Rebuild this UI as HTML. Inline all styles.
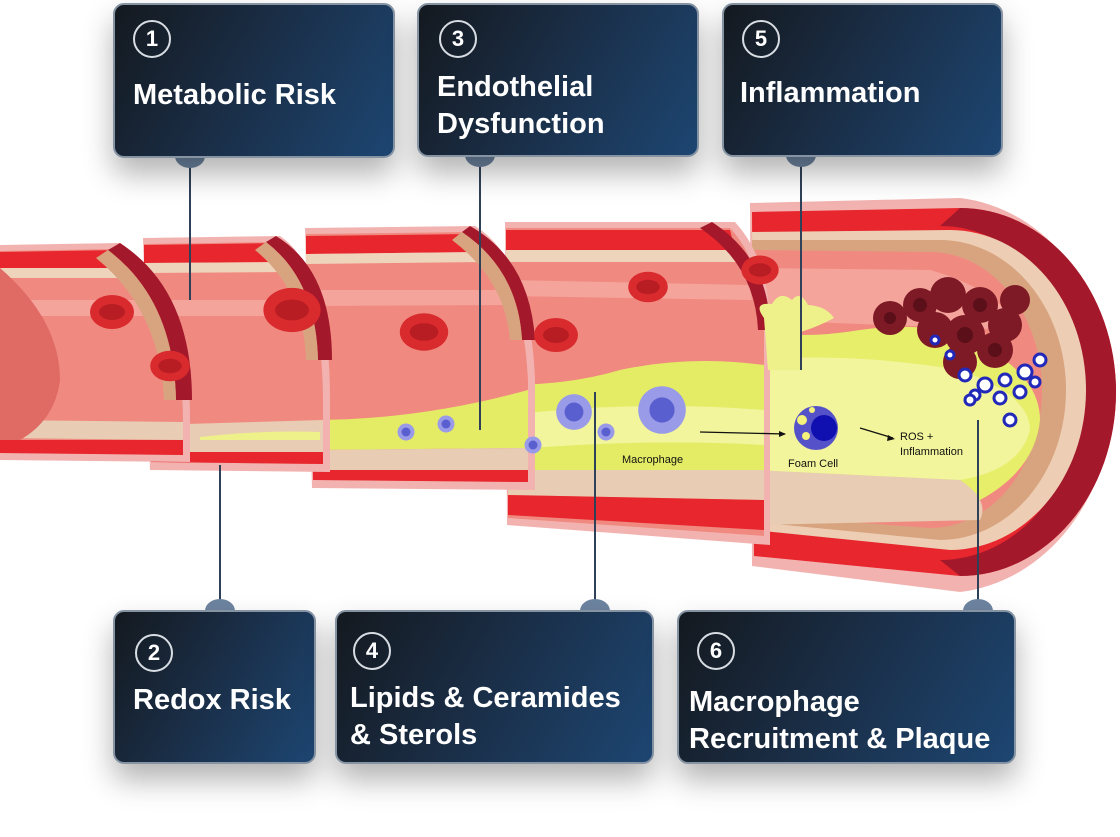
<!DOCTYPE html>
<html><head><meta charset="utf-8"><style>
html,body{margin:0;padding:0;background:#fff;}
body{width:1120px;height:837px;position:relative;overflow:hidden;font-family:"Liberation Sans",sans-serif;}
.box{position:absolute;box-sizing:border-box;border:2px solid #8593a3;border-radius:11px;background:linear-gradient(120deg,#14191f 0%,#1a2d45 45%,#1d4672 100%);box-shadow:0 16px 30px rgba(0,0,0,.3);color:#fff;}
.num{position:absolute;width:38px;height:38px;border:2px solid #d8dde3;border-radius:50%;box-sizing:border-box;text-align:center;line-height:34px;font-size:22px;font-weight:bold;}
.t{position:absolute;font-size:29px;font-weight:bold;line-height:37px;}
svg{position:absolute;left:0;top:0;}
</style></head><body>
<svg width="1120" height="837" viewBox="0 0 1120 837">
<defs>
<g id="rbc"><ellipse rx="22" ry="17" fill="#d92a2e"/><ellipse rx="13" ry="8" fill="#b81d24"/></g>
<g id="mac"><circle r="17" fill="#9a9be8"/><circle r="9" fill="#5a5fd0"/></g>
</defs>
<path d="M750,203 L960,198 A170,198 0 0 1 960,592 L752,566 Z" fill="#f2b3b0"/>
<path d="M752,212 L960,208 A156,184 0 0 1 960,576 L754,556 Z" fill="#e8262d"/>
<path d="M960,208 A156,184 0 0 1 960,576 L940,560 A140,166 0 0 0 940,226 Z" fill="#a3182b"/>
<path d="M752,232 L950,230 A136,160 0 0 1 950,550 L754,530 Z" fill="#edcdb3"/>
<path d="M752,240 L940,240 A126,150 0 0 1 940,540 L754,522 Z" fill="#d8a47f"/>
<path d="M752,250 L930,252 A112,138 0 0 1 930,528 L754,515 Z" fill="#f08a80"/>
<path d="M752,268 L930,270 Q1000,290 1020,330 L754,320 Z" fill="#f4a49b"/>
<path d="M754,330 Q800,340 860,330 Q940,318 990,350 Q1040,380 1040,420 Q1035,470 980,500 L754,495 Z" fill="#e6ee6a"/>
<path d="M754,360 Q850,352 960,370 Q1030,395 1030,430 Q1020,470 960,480 L754,470 Z" fill="#f2f59c"/>
<path d="M754,470 L960,480 Q990,500 980,520 L754,525 Z" fill="#e8ccb3"/>
<path d="M505,222 L735,222 Q770,260 770,330 L770,545 L507,525 Z" fill="#f2b3b0"/>
<path d="M506,228 L730,228 Q762,262 764,330 L764,536 L508,518 Z" fill="#f08a80"/>
<path d="M506,230 L730,230 L735,250 L506,250 Z" fill="#e8262d"/>
<path d="M506,250 L736,250 L738,262 L506,262 Z" fill="#efd4bc"/>
<path d="M506,280 L750,285 L752,300 L506,296 Z" fill="#f4a49b"/>
<path d="M506,385 Q570,385 620,370 Q690,355 764,365 L764,470 L508,470 Z" fill="#e4ec66"/>
<path d="M508,415 Q640,400 764,410 L764,445 Q640,438 508,450 Z" fill="#f2f59c"/>
<path d="M508,470 L764,470 L764,500 L508,495 Z" fill="#e8ccb3"/>
<path d="M508,495 L764,500 L764,530 L508,515 Z" fill="#e8262d"/>
<path d="M712,222 Q770,260 770,330 L758,330 Q755,265 700,228 Z" fill="#a3182b"/>
<path d="M305,228 L475,226 Q530,260 535,380 L535,490 L312,488 Z" fill="#f2b3b0"/>
<path d="M306,234 L470,232 Q522,266 528,380 L528,482 L313,480 Z" fill="#f08a80"/>
<path d="M306,236 L472,234 L478,252 L306,254 Z" fill="#e8262d"/>
<path d="M306,254 L480,252 L484,262 L306,264 Z" fill="#efd4bc"/>
<path d="M306,290 L505,290 L510,305 L306,306 Z" fill="#f4a49b"/>
<path d="M313,420 Q420,420 528,390 L528,448 L313,450 Z" fill="#e4ec66"/>
<path d="M313,450 L528,448 L528,470 L313,470 Z" fill="#e8ccb3"/>
<path d="M313,470 L528,470 L528,482 L313,480 Z" fill="#e8262d"/>
<path d="M470,226 Q530,260 535,340 L522,340 Q518,270 462,232 Z" fill="#a3182b"/>
<path d="M462,232 Q518,270 522,340 L510,340 Q505,280 452,240 Z" fill="#d8a47f"/>
<path d="M143,238 L280,236 Q330,270 330,400 L330,472 L150,470 Z" fill="#f2b3b0"/>
<path d="M144,244 L275,242 Q322,275 323,400 L323,464 L151,462 Z" fill="#f08a80"/>
<path d="M144,245 L278,243 L284,262 L144,263 Z" fill="#e8262d"/>
<path d="M144,263 L286,262 L290,272 L144,273 Z" fill="#efd4bc"/>
<path d="M144,300 L305,300 L310,316 L144,316 Z" fill="#f4a49b"/>
<path d="M151,425 L323,420 L323,452 L151,452 Z" fill="#e8ccb3"/>
<path d="M200,437 Q260,430 320,432 L320,440 Q260,440 200,440 Z" fill="#eef08a"/>
<path d="M151,452 L323,452 L323,464 L151,462 Z" fill="#e8262d"/>
<path d="M276,236 Q332,270 332,360 L318,360 Q316,280 266,242 Z" fill="#a3182b"/>
<path d="M266,242 Q316,280 318,360 L306,360 Q304,290 255,250 Z" fill="#d8a47f"/>
<path d="M0,245 L120,243 Q190,290 190,420 L190,462 L0,460 Z" fill="#f2b3b0"/>
<path d="M0,251 L116,249 Q182,292 183,420 L183,455 L0,453 Z" fill="#f08a80"/>
<path d="M0,252 L120,250 L126,268 L0,268 Z" fill="#e8262d"/>
<path d="M0,268 L128,268 L132,278 L0,278 Z" fill="#efd4bc"/>
<path d="M0,300 L150,300 L158,316 L0,316 Z" fill="#f4a49b"/>
<path d="M0,420 L183,422 L183,440 L0,438 Z" fill="#e8ccb3"/>
<path d="M0,440 L183,440 L183,455 L0,453 Z" fill="#e8262d"/>
<path d="M120,243 Q192,290 192,400 L176,400 Q174,300 108,250 Z" fill="#a3182b"/>
<path d="M108,250 Q174,300 176,400 L164,400 Q160,310 96,258 Z" fill="#d8a47f"/>
<path d="M0,268 Q60,320 60,380 Q55,420 20,440 L0,440 Z" fill="#e06a64"/>
<use href="#rbc" transform="translate(112,312)"/>
<use href="#rbc" transform="translate(170,366) scale(.9)"/>
<use href="#rbc" transform="translate(292,310) scale(1.3)"/>
<use href="#rbc" transform="translate(424,332) scale(1.1)"/>
<use href="#rbc" transform="translate(556,335)"/>
<use href="#rbc" transform="translate(648,287) scale(.9)"/>
<use href="#rbc" transform="translate(760,270) scale(.85)"/>
<g fill="#7e1a26">
<circle cx="890" cy="318" r="17"/><circle cx="920" cy="305" r="17"/><circle cx="948" cy="295" r="18"/><circle cx="980" cy="305" r="18"/><circle cx="1005" cy="325" r="17"/><circle cx="935" cy="330" r="18"/><circle cx="965" cy="335" r="20"/><circle cx="995" cy="350" r="18"/><circle cx="960" cy="362" r="17"/><circle cx="1015" cy="300" r="15"/>
</g>
<g fill="#5a0f19"><circle cx="920" cy="305" r="7"/><circle cx="980" cy="305" r="7"/><circle cx="965" cy="335" r="8"/><circle cx="995" cy="350" r="7"/><circle cx="890" cy="318" r="6"/></g>
<g fill="#fff" stroke="#2228b8" stroke-width="3">
<circle cx="965" cy="375" r="6"/><circle cx="985" cy="385" r="7"/><circle cx="1005" cy="380" r="6"/><circle cx="1025" cy="372" r="7"/><circle cx="1040" cy="360" r="6"/><circle cx="975" cy="395" r="5"/><circle cx="1000" cy="398" r="6"/><circle cx="1020" cy="392" r="6"/><circle cx="1035" cy="382" r="5"/><circle cx="970" cy="400" r="5"/><circle cx="1010" cy="420" r="6"/><circle cx="795" cy="345" r="4"/><circle cx="935" cy="340" r="4"/><circle cx="950" cy="355" r="4"/>
</g>
<path d="M764,318 Q752,302 772,304 Q780,290 792,300 Q800,290 808,305 Q826,306 834,318 Q815,328 800,332 L800,370 L768,370 Z" fill="#eef08a"/>
<use href="#mac" transform="translate(574,412) scale(1.05)"/>
<use href="#mac" transform="translate(662,410) scale(1.4)"/>
<use href="#mac" transform="translate(606,432) scale(.5)"/>
<use href="#mac" transform="translate(533,445) scale(.5)"/>
<use href="#mac" transform="translate(406,432) scale(.5)"/>
<use href="#mac" transform="translate(446,424) scale(.5)"/>
<circle cx="816" cy="428" r="22" fill="#5552c9"/><circle cx="824" cy="428" r="13" fill="#1010b0"/>
<g fill="#f4f27a"><circle cx="802" cy="420" r="5"/><circle cx="806" cy="436" r="4"/><circle cx="812" cy="410" r="3"/></g>
<line x1="700" y1="432" x2="785" y2="434" stroke="#111" stroke-width="1.3"/><path d="M786,434 l-7,-3 v6z" fill="#111"/>
<line x1="860" y1="428" x2="893" y2="438" stroke="#111" stroke-width="1.3"/><path d="M895,439 l-7,-4 -1,6z" fill="#111"/>
<text x="622" y="463" font-size="11" font-family="Liberation Sans" fill="#111">Macrophage</text>
<text x="788" y="467" font-size="11" font-family="Liberation Sans" fill="#111">Foam Cell</text>
<text x="900" y="440" font-size="11" font-family="Liberation Sans" fill="#111">ROS +</text>
<text x="900" y="455" font-size="11" font-family="Liberation Sans" fill="#111">Inflammation</text>
<g stroke="#2f4158" stroke-width="2">
<line x1="190" y1="160" x2="190" y2="300"/><line x1="480" y1="160" x2="480" y2="430"/><line x1="801" y1="160" x2="801" y2="370"/>
<line x1="220" y1="465" x2="220" y2="605"/><line x1="595" y1="392" x2="595" y2="605"/><line x1="978" y1="420" x2="978" y2="605"/>
</g>
<g fill="#6d84a0">
<path d="M175,156 h30 a15,12 0 0 1 -30,0z"/><path d="M465,155 h30 a15,12 0 0 1 -30,0z"/><path d="M786,155 h30 a15,12 0 0 1 -30,0z"/>
<path d="M205,611 h30 a15,12 0 0 0 -30,0z"/><path d="M580,611 h30 a15,12 0 0 0 -30,0z"/><path d="M963,611 h30 a15,12 0 0 0 -30,0z"/>
</g>
</svg>
<div class="box" style="left:113px;top:3px;width:282px;height:155px"><div class="num" style="left:18px;top:15px">1</div><div class="t" style="left:18px;top:72px">Metabolic Risk</div></div>
<div class="box" style="left:417px;top:3px;width:282px;height:154px"><div class="num" style="left:20px;top:15px">3</div><div class="t" style="left:18px;top:64px">Endothelial<br>Dysfunction</div></div>
<div class="box" style="left:722px;top:3px;width:281px;height:154px"><div class="num" style="left:18px;top:15px">5</div><div class="t" style="left:16px;top:70px">Inflammation</div></div>
<div class="box" style="left:113px;top:610px;width:203px;height:154px"><div class="num" style="left:20px;top:22px">2</div><div class="t" style="left:18px;top:70px">Redox Risk</div></div>
<div class="box" style="left:335px;top:610px;width:319px;height:154px"><div class="num" style="left:16px;top:20px">4</div><div class="t" style="left:13px;top:68px">Lipids &amp; Ceramides<br>&amp; Sterols</div></div>
<div class="box" style="left:677px;top:610px;width:339px;height:154px"><div class="num" style="left:18px;top:20px">6</div><div class="t" style="left:10px;top:72px">Macrophage<br>Recruitment &amp; Plaque</div></div>
</body></html>
